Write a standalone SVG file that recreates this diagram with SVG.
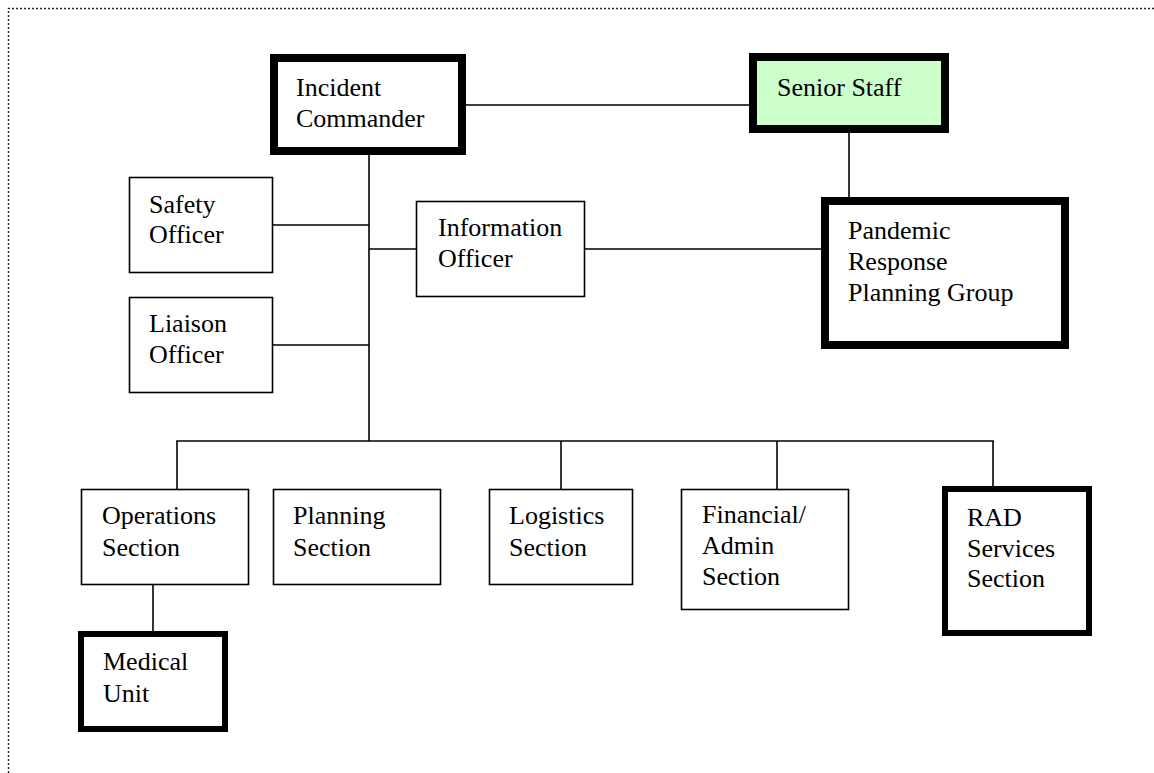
<svg xmlns="http://www.w3.org/2000/svg" width="1154" height="773" viewBox="0 0 1154 773">
<style>
  .thin { fill: #ffffff; stroke: #000; stroke-width: 1.6; }
  .thick { fill: #ffffff; stroke: #000; stroke-width: 8; }
  .mid { fill: #ffffff; stroke: #000; stroke-width: 6; }
  .green { fill: #ccffcc; }
  .conn line { stroke: #000; stroke-width: 1.6; }
  text { font-family: "Liberation Serif", "Times New Roman", serif; font-size: 26px; fill: #000; }
</style>
<rect width="1154" height="773" fill="#ffffff"/>
<path d="M8.5 773 V8.5 H1154" fill="none" stroke="#222" stroke-width="1.4" stroke-dasharray="2 2"/>
<g class="conn" id="connectors">
  <line x1="466" y1="105" x2="749" y2="105"/>
  <line x1="849" y1="133" x2="849" y2="197"/>
  <line x1="585" y1="249" x2="821" y2="249"/>
  <line x1="369" y1="155" x2="369" y2="441"/>
  <line x1="273" y1="225" x2="369" y2="225"/>
  <line x1="369" y1="249" x2="416" y2="249"/>
  <line x1="273" y1="345" x2="369" y2="345"/>
  <line x1="176.2" y1="441" x2="993.8" y2="441"/>
  <line x1="177" y1="441" x2="177" y2="489"/>
  <line x1="561" y1="441" x2="561" y2="489"/>
  <line x1="777" y1="441" x2="777" y2="489"/>
  <line x1="993" y1="441" x2="993" y2="486"/>
  <line x1="153" y1="585" x2="153" y2="631"/>
</g>
<g id="incident-commander">
  <rect class="thick" x="274" y="58" width="188" height="93"/>
  <text x="296" y="96">Incident</text>
  <text x="296" y="127">Commander</text>
</g>
<g id="senior-staff">
  <rect class="thick green" x="753" y="57" width="192" height="72"/>
  <text x="777" y="96">Senior Staff</text>
</g>
<g id="pandemic-group">
  <rect class="thick" x="825" y="201" width="240" height="144"/>
  <text x="848" y="239">Pandemic</text>
  <text x="848" y="270">Response</text>
  <text x="848" y="301">Planning Group</text>
</g>
<g id="safety-officer">
  <rect class="thin" x="129.5" y="177.5" width="143" height="95"/>
  <text x="149" y="213">Safety</text>
  <text x="149" y="243">Officer</text>
</g>
<g id="liaison-officer">
  <rect class="thin" x="129.5" y="297.5" width="143" height="95"/>
  <text x="149" y="332">Liaison</text>
  <text x="149" y="363">Officer</text>
</g>
<g id="information-officer">
  <rect class="thin" x="416.5" y="201.5" width="168" height="95"/>
  <text x="438" y="236">Information</text>
  <text x="438" y="267">Officer</text>
</g>
<g id="operations-section">
  <rect class="thin" x="81.5" y="489.5" width="167" height="95"/>
  <text x="102" y="524">Operations</text>
  <text x="102" y="556">Section</text>
</g>
<g id="planning-section">
  <rect class="thin" x="273.5" y="489.5" width="167" height="95"/>
  <text x="293" y="524">Planning</text>
  <text x="293" y="556">Section</text>
</g>
<g id="logistics-section">
  <rect class="thin" x="489.5" y="489.5" width="143" height="95"/>
  <text x="509" y="524">Logistics</text>
  <text x="509" y="556">Section</text>
</g>
<g id="financial-section">
  <rect class="thin" x="681.5" y="489.5" width="167" height="120"/>
  <text x="702" y="523">Financial/</text>
  <text x="702" y="554">Admin</text>
  <text x="702" y="585">Section</text>
</g>
<g id="rad-section">
  <rect class="mid" x="945" y="489" width="144" height="144"/>
  <text x="967" y="526">RAD</text>
  <text x="967" y="557">Services</text>
  <text x="967" y="587">Section</text>
</g>
<g id="medical-unit">
  <rect class="mid" x="81" y="634" width="144" height="95"/>
  <text x="103" y="670">Medical</text>
  <text x="103" y="702">Unit</text>
</g>
</svg>
